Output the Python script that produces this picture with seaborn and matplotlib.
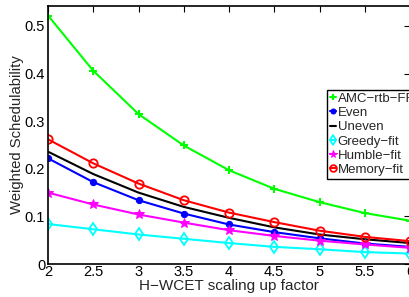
import pandas as pd
import matplotlib
matplotlib.use('Agg')
import matplotlib.pyplot as plt
import seaborn as sns

# 数据
factors = [2, 2.5, 3, 3.5, 4, 4.5, 5, 5.5, 6]
amc = [0.522, 0.406, 0.315, 0.249, 0.197, 0.158, 0.130, 0.107, 0.091]
even = [0.222, 0.172, 0.134, 0.106, 0.083, 0.067, 0.054, 0.043, 0.036]
uneven = [0.236, 0.189, 0.150, 0.120, 0.097, 0.077, 0.062, 0.052, 0.044]
greedy = [0.084, 0.073, 0.062, 0.053, 0.044, 0.036, 0.031, 0.025, 0.022]
humble = [0.150, 0.125, 0.104, 0.087, 0.071, 0.059, 0.049, 0.041, 0.034]
memory = [0.262, 0.2115, 0.169, 0.134, 0.108, 0.088, 0.070, 0.057, 0.048]

names = ['AMC\u2212rtb\u2212FF', 'Even', 'Uneven', 'Greedy\u2212fit', 'Humble\u2212fit', 'Memory\u2212fit']
series = [amc, even, uneven, greedy, humble, memory]
colors = ['#00ff00', '#0000ff', '#000000', '#00ffff', '#ff00ff', '#ff0000']
markers = ['+', 'o', None, 'd', '*', 'o']

sns.set_style('white')
plt.rcParams['font.family'] = ['Liberation Sans', 'DejaVu Sans']

fig = plt.figure(figsize=(4.09, 2.97), dpi=100)
ax = fig.add_axes([48 / 409, 1 - 264 / 297, 362 / 409, 258 / 297])

for name, vals, c, m in zip(names, series, colors, markers):
    df = pd.DataFrame({'x': factors, 'y': vals})
    kw = dict(color=c, linewidth=1.5, label=name)
    if m is not None:
        kw['marker'] = m
        if name in ('Memory\u2212fit', 'Greedy\u2212fit'):
            kw.update(markerfacecolor='none', markeredgecolor=c, markersize=6, markeredgewidth=1.3)
        elif name == 'Even':
            kw.update(markerfacecolor=c, markeredgecolor=c, markersize=4.5)
        elif name == 'Humble\u2212fit':
            kw.update(markerfacecolor=c, markeredgecolor=c, markersize=7)
        else:
            kw.update(markeredgecolor=c, markersize=6, markeredgewidth=1.5)
    sns.lineplot(data=df, x='x', y='y', ax=ax, **kw)

ax.set_xlim(2, 6)
ax.set_ylim(0, 0.542)
ax.set_xticks(factors)
ax.set_xticklabels(['2', '2.5', '3', '3.5', '4', '4.5', '5', '5.5', '6'])
ax.set_yticks([0, 0.1, 0.2, 0.3, 0.4, 0.5])
ax.set_yticklabels(['0', '0.1', '0.2', '0.3', '0.4', '0.5'])
ax.tick_params(direction='in', length=4, width=0.8, labelsize=10.5,
               top=True, right=True, colors='black')
ax.tick_params(axis='x', pad=1)
ax.tick_params(axis='y', pad=2)
for sp in ax.spines.values():
    sp.set_color('black')
    sp.set_linewidth(1.2)

ax.set_xlabel('H\u2212WCET scaling up factor', fontsize=11, labelpad=0)
ax.set_ylabel('Weighted Schedulability', fontsize=10.7, labelpad=0.5)

leg = ax.legend(loc='upper left', bbox_to_anchor=(327 / 409, 1 - 90 / 297),
                bbox_transform=fig.transFigure, fontsize=9.5, handlelength=0.5,
                handletextpad=0.1, borderpad=0.2, labelspacing=0.15,
                borderaxespad=0, fancybox=False, framealpha=1, markerscale=0.8)
leg.get_frame().set_edgecolor('black')
leg.get_frame().set_linewidth(1.0)

fig.savefig('out.png', dpi=100)
